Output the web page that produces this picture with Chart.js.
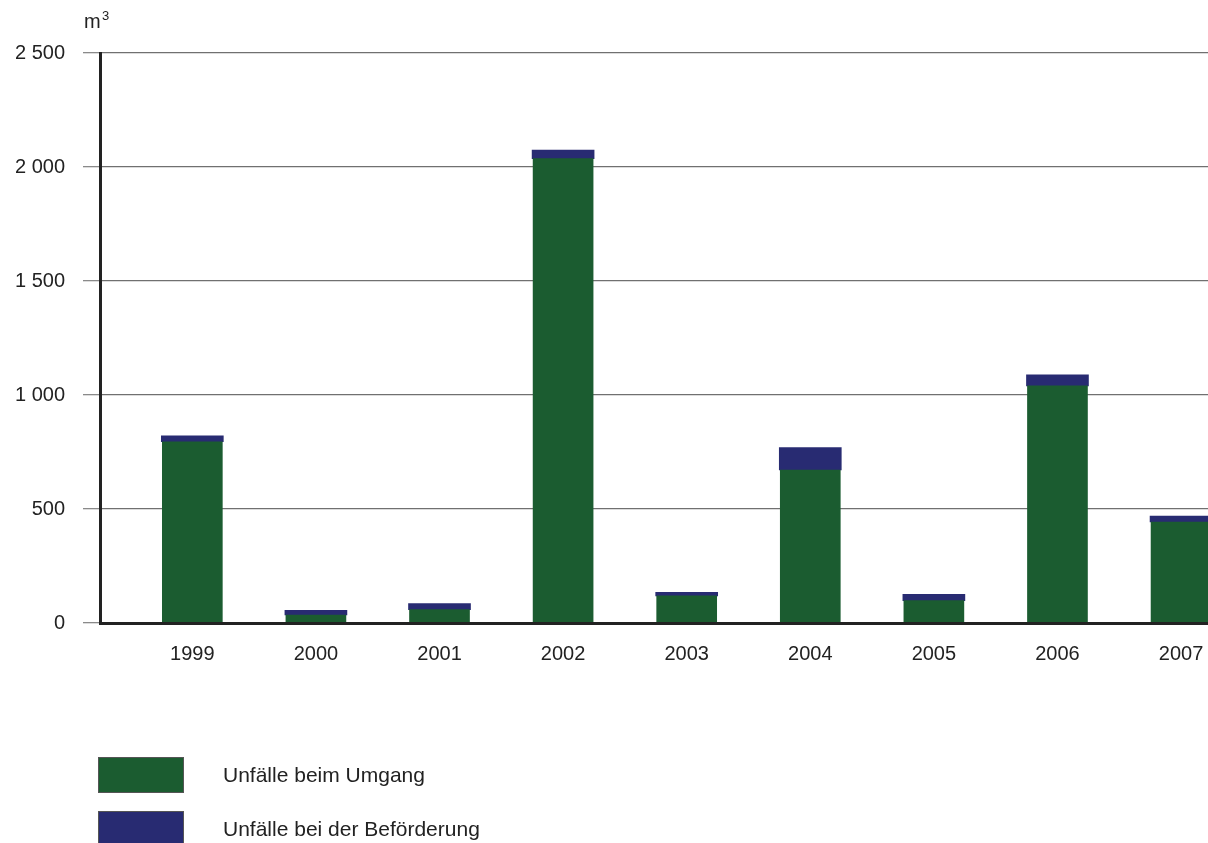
<!DOCTYPE html>
<html lang="de">
<head>
<meta charset="utf-8">
<title>Unfälle mit wassergefährdenden Stoffen</title>
<script src="https://cdn.jsdelivr.net/npm/chart.js@4/dist/chart.umd.min.js"></script>
<style>
  html, body { margin: 0; padding: 0; background: #fff; }
  canvas { display: block; }
</style>
</head>
<body>
<canvas id="chart" width="1208" height="843"></canvas>
<script>
const years = [1999, 2000, 2001, 2002, 2003, 2004, 2005, 2006, 2007];
const umgang = [795, 35, 59, 2037, 119, 671, 98, 1040, 443];
const befoerderung = [26, 21, 26, 37, 16, 98, 28, 48, 26];
const yTicks = [0, 500, 1000, 1500, 2000, 2500];

const FONT = '"Liberation Sans", Arial, sans-serif';
const TEXT = '#222';

function thousands(v) {
  return String(v).replace(/\B(?=(\d{3})+(?!\d))/g, ' ');
}

// unit label and the vertical legend below the plot
const extras = {
  id: 'extras',
  afterDraw(chart) {
    const ctx = chart.ctx;
    ctx.save();
    ctx.fillStyle = TEXT;
    ctx.font = '20px ' + FONT;
    ctx.textBaseline = 'alphabetic';
    ctx.textAlign = 'left';
    ctx.fillText('m', 84, 28);
    ctx.font = '13px ' + FONT;
    ctx.fillText('3', 102, 20);

    const rows = [775, 829];
    chart.data.datasets.forEach((ds, i) => {
      const cy = rows[i];
      ctx.fillStyle = ds.backgroundColor;
      ctx.fillRect(98, cy - 18, 86, 36);
      ctx.strokeStyle = '#555';
      ctx.lineWidth = 1;
      ctx.strokeRect(98.5, cy - 17.5, 85, 35);
      ctx.fillStyle = TEXT;
      ctx.font = '21px ' + FONT;
      ctx.textBaseline = 'middle';
      ctx.fillText(ds.label, 223, cy + 1);
    });
    ctx.restore();
  }
};

new Chart(document.getElementById('chart'), {
  type: 'bar',
  data: {
    datasets: [
      {
        label: 'Unfälle beim Umgang',
        data: years.map((y, i) => ({ x: y, y: umgang[i] })),
        backgroundColor: '#1b5c30',
        barThickness: 60
      },
      {
        label: 'Unfälle bei der Beförderung',
        data: years.map((y, i) => ({ x: y, y: befoerderung[i] })),
        backgroundColor: '#282b72',
        barThickness: 62
      }
    ]
  },
  options: {
    responsive: false,
    animation: false,
    layout: { padding: { top: 53, left: 0, right: 0, bottom: 160 } },
    plugins: {
      legend: { display: false },
      tooltip: { enabled: false }
    },
    scales: {
      x: {
        type: 'linear',
        stacked: true,
        offset: false,
        min: 1998.253,
        max: 2007.218,
        afterBuildTicks: (scale) => { scale.ticks = years.map(v => ({ value: v })); },
        afterFit: (scale) => {
          scale.height = 60;
          scale.paddingLeft = 0;
          scale.paddingRight = 0;
        },
        grid: { display: false, offset: false },
        border: { display: true, color: '#222', width: 3, z: 1 },
        ticks: {
          color: TEXT,
          font: { family: FONT, size: 20 },
          padding: 11,
          maxRotation: 0,
          autoSkip: false,
          callback: (v) => String(v)
        }
      },
      y: {
        stacked: true,
        min: 0,
        max: 2500,
        afterBuildTicks: (scale) => { scale.ticks = yTicks.map(v => ({ value: v })); },
        afterFit: (scale) => {
          scale.width = 100;
          scale.paddingTop = 0;
          scale.paddingBottom = 0;
        },
        grid: {
          color: '#707070',
          lineWidth: 1.3,
          tickLength: 17,
          tickColor: '#8a8a8a'
        },
        border: { display: true, color: '#222', width: 3 },
        ticks: {
          color: TEXT,
          font: { family: FONT, size: 20 },
          padding: 18,
          callback: (v) => thousands(v)
        }
      }
    }
  },
  plugins: [extras]
});
</script>
</body>
</html>
